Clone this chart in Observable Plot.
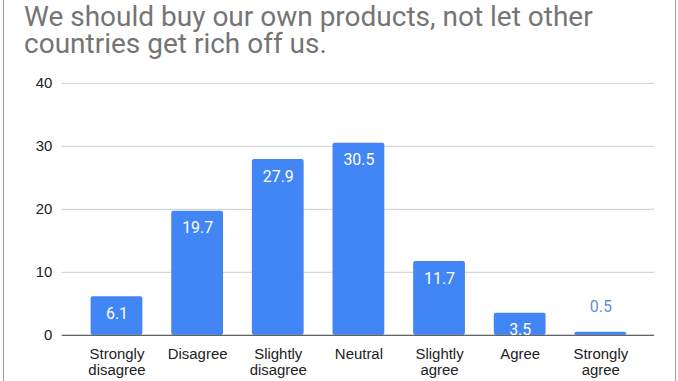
<!DOCTYPE html>
<html>
<head>
<meta charset="utf-8">
<script src="https://cdn.jsdelivr.net/npm/d3@7"></script>
<script src="https://cdn.jsdelivr.net/npm/@observablehq/plot@0.6"></script>
<style>
  html, body { margin: 0; padding: 0; background: #fff; }
  #frame { position: relative; width: 673px; height: 381px; margin-left: 3px; border-left: 1px solid #9e9e9e; border-right: 1px solid #9e9e9e; box-sizing: border-box; overflow: hidden; }
  #title { position: absolute; left: 20px; top: 3px; font-family: Roboto, sans-serif; font-size: 28px; line-height: 27px; color: #757575; white-space: nowrap; }
  #chart { position: absolute; left: -4px; top: 62px; }
</style>
</head>
<body>
<div id="frame">
  <div id="title">We should buy our own products, not let other<br>countries get rich off us.</div>
  <div id="chart"></div>
</div>
<script>
const categories = ["Strongly\ndisagree", "Disagree", "Slightly\ndisagree", "Neutral", "Slightly\nagree", "Agree", "Strongly\nagree"];
const values = [6.1, 19.7, 27.9, 30.5, 11.7, 3.5, 0.5];
const yTicks = [0, 10, 20, 30, 40];

const data = categories.map((c, i) => ({cat: c, value: values[i]}));
const inside = data.filter(d => d.value >= 2);
const outside = data.filter(d => d.value < 2);

const chart = Plot.plot({
  width: 678,
  height: 319,
  marginTop: 21,
  marginBottom: 45,
  marginLeft: 62,
  marginRight: 21,
  style: {fontFamily: "'Liberation Sans', Arial, sans-serif", fontSize: "15px", color: "#222", background: "transparent"},
  x: {domain: categories, paddingInner: 0.36, paddingOuter: 0.35, label: null},
  y: {domain: [0, 40], ticks: yTicks, label: null},
  marks: [
    Plot.gridY(yTicks.filter(t => t > 0), {stroke: "#cccccc", strokeOpacity: 1, strokeWidth: 1}),
    Plot.axisY({ticks: yTicks, tickSize: 0, tickPadding: 10, fill: "#222", label: null}),
    Plot.axisX({tickSize: 0, tickPadding: 13, fill: "#222", label: null, lineHeight: 1.05, style: {letterSpacing: "0.9px"}}),
    Plot.barY(data, {x: "cat", y: "value", fill: "#4285f4", rx: 2}),
    Plot.ruleY([0], {stroke: "#333", strokeWidth: 1}),
    Plot.text(inside, {x: "cat", y: "value", text: d => d.value.toFixed(1), dy: 17, fill: "#fff", fontFamily: "Roboto, sans-serif", fontSize: 16}),
    Plot.text(outside, {x: "cat", y: "value", text: d => d.value.toFixed(1), dy: -25, fill: "#5b8fe0", fontFamily: "Roboto, sans-serif", fontSize: 16})
  ]
});
document.getElementById("chart").appendChild(chart);
</script>
</body>
</html>
